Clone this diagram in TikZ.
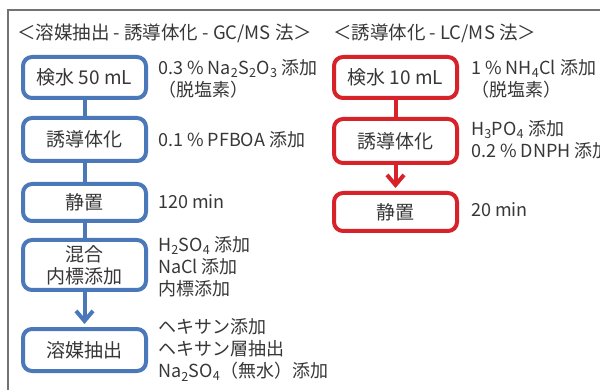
\documentclass[tikz,border=0pt]{standalone}
\usepackage{fontspec}
\newfontfamily\jpfont{Noto Sans CJK JP}
\usetikzlibrary{arrows.meta}
\definecolor{flowblue}{RGB}{74,120,184}
\definecolor{flowred}{RGB}{216,34,42}
\definecolor{framegray}{RGB}{115,115,115}
\definecolor{inkgray}{RGB}{55,55,55}

\begin{document}
\begin{tikzpicture}[x=1pt, y=-1pt, text=inkgray,
		font=\jpfont\fontsize{19}{22}\selectfont,
		flowbox/.style={line width=4pt, rounded corners=9pt, minimum width=123pt, align=center, fill=white, inner sep=0pt},
		bluebox/.style={flowbox, draw=flowblue},
		redbox/.style={flowbox, draw=flowred},
		note/.style={anchor=west, align=left, inner sep=0pt, font=\jpfont\fontsize{18}{22}\selectfont},
		heading/.style={anchor=west, inner sep=0pt, font=\jpfont\fontsize{18.5}{22}\selectfont},
		blueline/.style={draw=flowblue, line width=4pt},
		redline/.style={draw=flowred, line width=4pt},
		tip/.style={-{Straight Barb[length=10pt, width=17pt]}, shorten >=3pt}]
			\useasboundingbox (0,0) rectangle (600,390);
			
			% frame
			\draw[framegray, line width=1.3pt] (8,392) -- (8,10) -- (602,10);
			
			\node[heading] (hgc) at (17,33) {＜溶媒抽出 - 誘導体化 - GC/MS 法＞};
			\node[heading] (hlc) at (333,33) {＜誘導体化 - LC/MS 法＞};
			
			% GC/MS
			\node[bluebox, minimum height=41pt] (g1) at (84.5,77.5) {検水 50 mL};
			\node[bluebox, minimum height=43pt] (g2) at (84.5,139.5) {誘導体化};
			\node[bluebox, minimum height=37pt] (g3) at (84.5,202.5) {静置};
			\node[bluebox, minimum height=50pt] (g4) at (84.5,265) {混合\\内標添加};
			\node[bluebox, minimum height=42pt] (g5) at (84.5,350) {溶媒抽出};
			
			\draw[blueline] (g1) -- (g2);
			\draw[blueline] (g2) -- (g3);
			\draw[blueline] (g3) -- (g4);
			\draw[blueline, tip] (g4) -- (g5);
			
			\node[note] (gn1) at (158,79) {0.3 \% Na\textsubscript{2}S\textsubscript{2}O\textsubscript{3} 添加\\（脱塩素）};
			\node[note] (gn2) at (158,140) {0.1 \% PFBOA 添加};
			\node[note] (gn3) at (158,202) {120 min};
			\node[note] (gn4) at (158,267) {H\textsubscript{2}SO\textsubscript{4} 添加\\NaCl 添加\\内標添加};
			\node[note] (gn5) at (158,350) {ヘキサン添加\\ヘキサン層抽出\\Na\textsubscript{2}SO\textsubscript{4}（無水）添加};
			
			% LC/MS
			\node[redbox, minimum height=41pt] (l1) at (395.5,77.5) {検水 10 mL};
			\node[redbox, minimum height=44pt] (l2) at (395.5,141) {誘導体化};
			\node[redbox, minimum height=38pt] (l3) at (395.5,212) {静置};
			
			\draw[redline] (l1) -- (l2);
			\draw[redline, tip] (l2) -- (l3);
			
			\node[note] (ln1) at (471,79) {1 \% NH\textsubscript{4}Cl 添加\\（脱塩素）};
			\node[note] (ln2) at (471,140) {H\textsubscript{3}PO\textsubscript{4} 添加\\0.2 \% DNPH 添加};
			\node[note] (ln3) at (471,210) {20 min};
\end{tikzpicture}
\end{document}
